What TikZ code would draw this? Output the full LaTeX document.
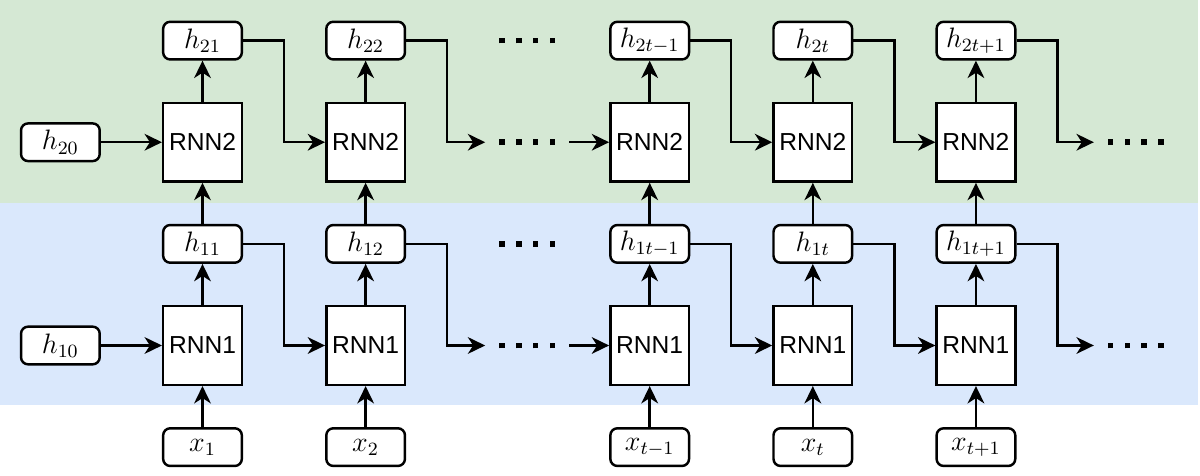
\documentclass[tikz,border=0pt]{standalone}
\usepackage{fontspec}
\setsansfont{Liberation Sans}
\usepackage{tikz}
\usetikzlibrary{arrows.meta,positioning}
\definecolor{bandgreen}{HTML}{D5E8D4}
\definecolor{bandblue}{HTML}{DAE8FC}
\newcommand{\skipdots}{\rule{2.4pt}{2.4pt}\hspace{4.8pt}\rule{2.4pt}{2.4pt}\hspace{4.8pt}\rule{2.4pt}{2.4pt}\hspace{4.8pt}\rule{2.4pt}{2.4pt}}
\tikzset{
  cellbox/.style={
    draw=black,
    fill=white,
    line width=1.05pt,
    minimum width=11.8mm,
    minimum height=11.8mm,
    inner sep=0pt,
    font=\sffamily\fontsize{10.5}{12}\selectfont
  },
  statebox/.style={
    draw=black,
    fill=white,
    line width=1.05pt,
    rounded corners=3pt,
    minimum width=11.8mm,
    minimum height=5.65mm,
    inner sep=0pt,
    font=\large
  },
  dotsnode/.style={minimum width=12.45mm, inner sep=0pt},
  flowarrow/.style={-{Stealth[length=2.6mm,width=2.5mm,inset=0.8mm]}, line width=1.05pt}
}
\begin{document}
\begin{tikzpicture}[node distance=6.15mm and 12.3mm]
\useasboundingbox (0,0) rectangle (18,-7.14);
\fill[bandgreen] (0,0) rectangle (17.97,-3.045);
\fill[bandblue] (0,-3.045) rectangle (17.97,-6.075);

\node[cellbox] (rnn11) at (3.0375,-5.1825) {RNN1};
\node[cellbox, right=of rnn11] (rnn12) {RNN1};
\node[dotsnode, right=11.85mm of rnn12] (skiprnn1) {\skipdots};
\node[cellbox, right=6mm of skiprnn1] (rnn1tm) {RNN1};
\node[cellbox, right=of rnn1tm] (rnn1t) {RNN1};
\node[cellbox, right=of rnn1t] (rnn1tp) {RNN1};
\node[dotsnode, right=11.6mm of rnn1tp] (tailrnn1) {\skipdots};

\node[statebox, above=of rnn11] (h11) {$h_{11}$};
\node[statebox, above=of rnn12] (h12) {$h_{12}$};
\node[dotsnode, right=11.85mm of h12] (skiph1) {\skipdots};
\node[statebox, above=of rnn1tm] (h1tm) {$h_{1t-1}$};
\node[statebox, above=of rnn1t] (h1t) {$h_{1t}$};
\node[statebox, above=of rnn1tp] (h1tp) {$h_{1t+1}$};

\node[cellbox, above=of h11] (rnn21) {RNN2};
\node[cellbox, above=of h12] (rnn22) {RNN2};
\node[dotsnode, right=11.85mm of rnn22] (skiprnn2) {\skipdots};
\node[cellbox, above=of h1tm] (rnn2tm) {RNN2};
\node[cellbox, above=of h1t] (rnn2t) {RNN2};
\node[cellbox, above=of h1tp] (rnn2tp) {RNN2};
\node[dotsnode, right=11.6mm of rnn2tp] (tailrnn2) {\skipdots};

\node[statebox, above=of rnn21] (h21) {$h_{21}$};
\node[statebox, above=of rnn22] (h22) {$h_{22}$};
\node[dotsnode, right=11.85mm of h22] (skiph2) {\skipdots};
\node[statebox, above=of rnn2tm] (h2tm) {$h_{2t-1}$};
\node[statebox, above=of rnn2t] (h2t) {$h_{2t}$};
\node[statebox, above=of rnn2tp] (h2tp) {$h_{2t+1}$};

\node[statebox, below=of rnn11] (x1) {$x_1$};
\node[statebox, below=of rnn12] (x2) {$x_2$};
\node[statebox, below=of rnn1tm] (xtm) {$x_{t-1}$};
\node[statebox, below=of rnn1t] (xt) {$x_t$};
\node[statebox, below=of rnn1tp] (xtp) {$x_{t+1}$};

\node[statebox, left=9.15mm of rnn11] (h10) {$h_{10}$};
\node[statebox, left=9.15mm of rnn21] (h20) {$h_{20}$};

\draw[flowarrow] (h10) -- (rnn11);
\draw[flowarrow] (h20) -- (rnn21);

\draw[flowarrow] (x1) -- (rnn11);
\draw[flowarrow] (rnn11) -- (h11);
\draw[flowarrow] (h11) -- (rnn21);
\draw[flowarrow] (rnn21) -- (h21);
\draw[flowarrow] (x2) -- (rnn12);
\draw[flowarrow] (rnn12) -- (h12);
\draw[flowarrow] (h12) -- (rnn22);
\draw[flowarrow] (rnn22) -- (h22);
\draw[flowarrow] (xtm) -- (rnn1tm);
\draw[flowarrow] (rnn1tm) -- (h1tm);
\draw[flowarrow] (h1tm) -- (rnn2tm);
\draw[flowarrow] (rnn2tm) -- (h2tm);
\draw[flowarrow] (xt) -- (rnn1t);
\draw[flowarrow] (rnn1t) -- (h1t);
\draw[flowarrow] (h1t) -- (rnn2t);
\draw[flowarrow] (rnn2t) -- (h2t);
\draw[flowarrow] (xtp) -- (rnn1tp);
\draw[flowarrow] (rnn1tp) -- (h1tp);
\draw[flowarrow] (h1tp) -- (rnn2tp);
\draw[flowarrow] (rnn2tp) -- (h2tp);

\draw[flowarrow] (h11.east) -- ++(6.15mm,0) |- (rnn12.west);
\draw[flowarrow] (h12.east) -- ++(6.15mm,0) |- (skiprnn1.west);
\draw[flowarrow] (skiprnn1) -- (rnn1tm);
\draw[flowarrow] (h1tm.east) -- ++(6.15mm,0) |- (rnn1t.west);
\draw[flowarrow] (h1t.east) -- ++(6.15mm,0) |- (rnn1tp.west);
\draw[flowarrow] (h1tp.east) -- ++(6.15mm,0) |- (tailrnn1.west);

\draw[flowarrow] (h21.east) -- ++(6.15mm,0) |- (rnn22.west);
\draw[flowarrow] (h22.east) -- ++(6.15mm,0) |- (skiprnn2.west);
\draw[flowarrow] (skiprnn2) -- (rnn2tm);
\draw[flowarrow] (h2tm.east) -- ++(6.15mm,0) |- (rnn2t.west);
\draw[flowarrow] (h2t.east) -- ++(6.15mm,0) |- (rnn2tp.west);
\draw[flowarrow] (h2tp.east) -- ++(6.15mm,0) |- (tailrnn2.west);
\end{tikzpicture}
\end{document}
